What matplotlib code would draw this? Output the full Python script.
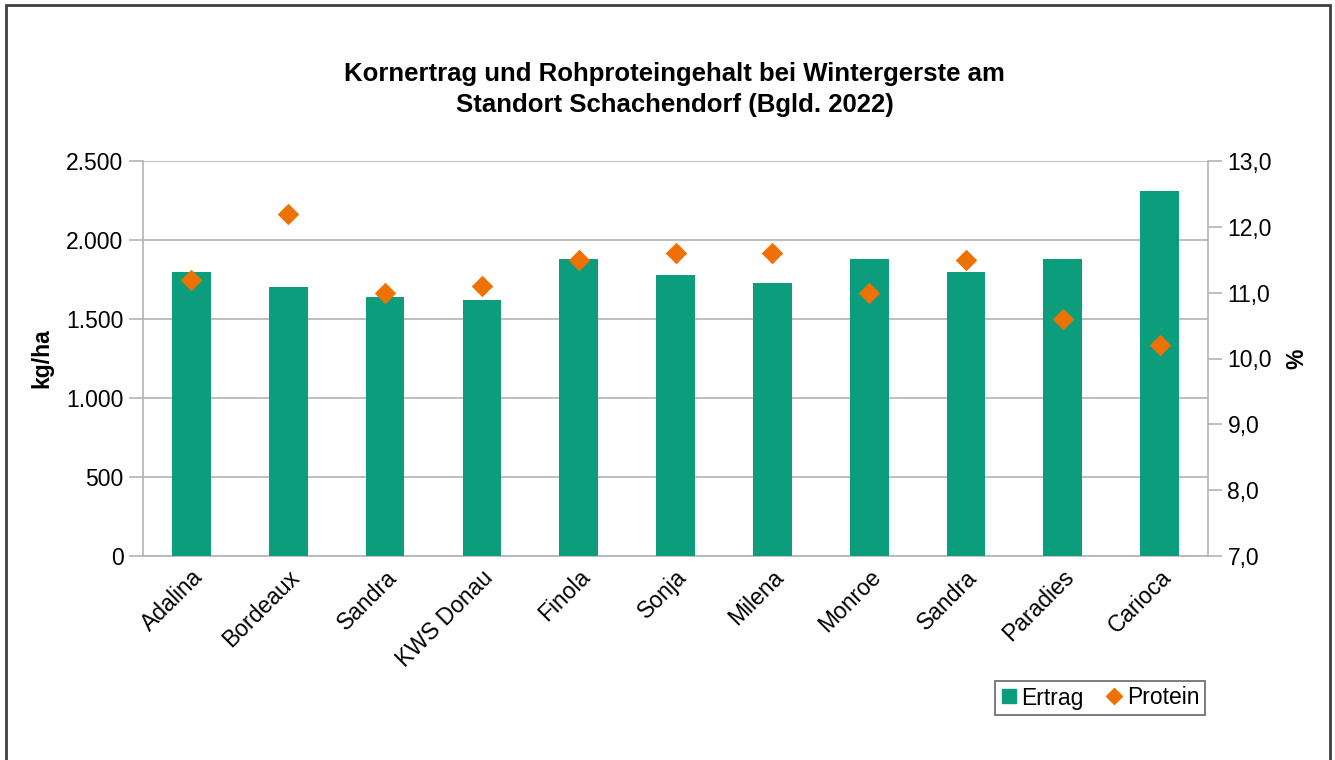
import matplotlib
matplotlib.use("Agg")
import matplotlib.pyplot as plt
from matplotlib.lines import Line2D
from matplotlib.patches import Rectangle
import numpy as np

categories = ["Adalina", "Bordeaux", "Sandra", "KWS Donau", "Finola", "Sonja",
              "Milena", "Monroe", "Sandra", "Paradies", "Carioca"]
ertrag = [1800, 1700, 1640, 1620, 1880, 1780, 1730, 1880, 1800, 1880, 2310]
protein = [11.2, 12.2, 11.0, 11.1, 11.5, 11.6, 11.6, 11.0, 11.5, 10.6, 10.2]
left_ticks = [0, 500, 1000, 1500, 2000, 2500]
left_labels = ["0", "500", "1.000", "1.500", "2.000", "2.500"]
right_ticks = [7, 8, 9, 10, 11, 12, 13]
right_labels = ["7,0", "8,0", "9,0", "10,0", "11,0", "12,0", "13,0"]

GREEN = "#0C9E7C"
ORANGE = "#EE7203"
GRID = "#B3B3B3"
FS = 16.5

plt.rcParams["font.family"] = ["Liberation Sans", "DejaVu Sans"]

fig = plt.figure(figsize=(13.35, 7.6), dpi=100)
fig.patches.append(Rectangle((6/1335, -0.01), (1330-6)/1335, 1 - 5/760 + 0.01,
                             transform=fig.transFigure, fill=False,
                             edgecolor="#404040", linewidth=2, zorder=10))

ax = fig.add_axes([143/1335, 1-556/760, (1208-143)/1335, (556-161)/760])
x = np.arange(len(categories))
ax.bar(x, ertrag, width=0.4, color=GREEN, zorder=3)
ax.set_xlim(-0.5, len(categories) - 0.5)
ax.set_ylim(0, 2500)
ax.set_yticks(left_ticks)
ax.set_yticklabels(left_labels, fontsize=FS)
ax.yaxis.grid(True, color=GRID, linewidth=1.2, zorder=0)
ax.set_axisbelow(True)
for s in ["top", "right"]:
    ax.spines[s].set_visible(False)
ax.spines["left"].set_color(GRID)
ax.spines["bottom"].set_color(GRID)
ax.spines["left"].set_linewidth(1.2)
ax.spines["bottom"].set_linewidth(1.2)
ax.tick_params(axis="y", length=10, color=GRID, width=1.2, pad=4)
ax.tick_params(axis="x", length=0, pad=7)
ax.set_xticks(x)
ax.set_xticklabels(categories, rotation=45, ha="right", rotation_mode="anchor", fontsize=FS)
ax.set_ylabel("kg/ha", fontsize=FS, fontweight="bold", labelpad=9)

ax2 = ax.twinx()
ax2.scatter(x, protein, marker="D", s=120, color=ORANGE, zorder=4, linewidths=0)
ax2.set_ylim(7, 13)
ax2.set_yticks(right_ticks)
ax2.set_yticklabels(right_labels, fontsize=FS)
for s in ["top", "left", "bottom"]:
    ax2.spines[s].set_visible(False)
ax2.spines["right"].set_color(GRID)
ax2.spines["right"].set_linewidth(1.2)
ax2.tick_params(axis="y", length=10, color=GRID, width=1.2, pad=4)
ax2.set_ylabel("%", fontsize=FS, fontweight="bold", rotation=90, labelpad=10)

fig.text(0.5055, 1-74/760, "Kornertrag und Rohproteingehalt bei Wintergerste am",
         ha="center", va="center", fontsize=18.5, fontweight="bold")
fig.text(0.5055, 1-105/760, "Standort Schachendorf (Bgld. 2022)",
         ha="center", va="center", fontsize=18.5, fontweight="bold")

handles = [Line2D([], [], marker="s", linestyle="none", color=GREEN, markersize=10),
           Line2D([], [], marker="D", linestyle="none", color=ORANGE, markersize=8)]
leg = fig.legend(handles, ["Ertrag", "Protein"], loc="center",
                 bbox_to_anchor=(1100/1335, 1-698/760), ncol=2, fontsize=FS,
                 frameon=True, fancybox=False, edgecolor="#404040",
                 handlelength=0.7, handletextpad=0.2, columnspacing=1.0,
                 borderpad=0.25)
leg.get_frame().set_linewidth(1.2)

fig.savefig("out.png", dpi=100)
